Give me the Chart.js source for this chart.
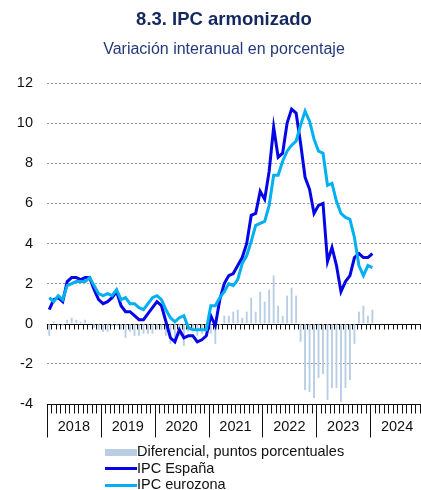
<!DOCTYPE html>
<html>
<head>
<meta charset="utf-8">
<script src="https://cdn.jsdelivr.net/npm/chart.js@4"></script>
<style>
  body { margin: 0; overflow: hidden; background: #fff; font-family: "Liberation Sans", Arial, sans-serif; }
  #wrap { position: relative; width: 448px; height: 490px; }
  #titulo { position: absolute; left: 0; top: 8px; width: 448px; text-align: center; font-size: 18.5px; line-height: 22px; font-weight: bold; color: #13285e; }
  #subtitulo { position: absolute; left: 0; top: 39px; width: 448px; text-align: center; font-size: 16px; line-height: 19px; color: #22397a; }
  #leyenda { position: absolute; left: 105px; top: 443px; font-size: 14.5px; color: #111; }
  #leyenda div { height: 16.5px; line-height: 16.5px; white-space: nowrap; }
  #leyenda span.sw { display: inline-block; width: 32px; vertical-align: middle; }
</style>
</head>
<body>
<div id="wrap">
  <canvas id="grafico"></canvas>
  <div id="titulo">8.3. IPC armonizado</div>
  <div id="subtitulo">Variación interanual en porcentaje</div>
  <div id="leyenda"></div>
</div>
<script>
// años del eje y meses (ene 2018 - dic 2024)
let anios = [2018, 2019, 2020, 2021, 2022, 2023, 2024];
let meses = [];
anios.forEach(a => { for (let m = 1; m <= 12; m++) meses.push(a + "-" + String(m).padStart(2, "0")); });

// tasas interanuales, ene 2018 - ene 2024
let ipcEspana = [
  0.7, 1.2, 1.3, 1.1, 2.1, 2.3, 2.3, 2.2, 2.3, 2.3, 1.7, 1.2,
  1.0, 1.1, 1.3, 1.6, 0.9, 0.6, 0.6, 0.4, 0.2, 0.2, 0.5, 0.8,
  1.1, 0.9, 0.1, -0.7, -0.9, -0.3, -0.7, -0.6, -0.6, -0.9, -0.8, -0.6,
  0.4, -0.1, 1.2, 2.0, 2.4, 2.5, 2.9, 3.3, 4.0, 5.4, 5.5, 6.6,
  6.2, 7.6, 9.8, 8.3, 8.5, 10.0, 10.7, 10.5, 9.0, 7.3, 6.7, 5.5,
  5.9, 6.0, 3.1, 3.8, 2.9, 1.6, 2.1, 2.4, 3.3, 3.5, 3.3, 3.3,
  3.5
];
let ipcEurozona = [
  1.3, 1.1, 1.4, 1.2, 1.9, 2.0, 2.1, 2.1, 2.1, 2.3, 1.9, 1.5,
  1.4, 1.5, 1.4, 1.7, 1.2, 1.3, 1.0, 1.0, 0.8, 0.7, 1.0, 1.3,
  1.4, 1.2, 0.7, 0.3, 0.1, 0.3, 0.4, -0.2, -0.3, -0.3, -0.3, -0.3,
  0.9, 0.9, 1.3, 1.6, 2.0, 1.9, 2.2, 3.0, 3.4, 4.1, 4.9, 5.0,
  5.1, 5.9, 7.4, 7.4, 8.1, 8.6, 8.9, 9.1, 9.9, 10.6, 10.1, 9.2,
  8.6, 8.5, 6.9, 7.0, 6.1, 5.5, 5.3, 5.2, 4.3, 2.9, 2.4, 2.9,
  2.8
];
let diferencial = [
  -0.6, 0.1, -0.1, -0.1, 0.2, 0.3, 0.2, 0.1, 0.2, 0.0, -0.2, -0.3,
  -0.4, -0.4, -0.1, -0.1, -0.3, -0.7, -0.4, -0.6, -0.6, -0.5, -0.5, -0.5,
  -0.3, -0.3, -0.6, -1.0, -1.0, -0.6, -1.1, -0.4, -0.3, -0.6, -0.5, -0.3,
  -0.5, -1.0, -0.1, 0.4, 0.4, 0.6, 0.7, 0.3, 0.6, 1.3, 0.6, 1.6,
  1.1, 1.7, 2.4, 0.9, 0.4, 1.4, 1.8, 1.4, -0.9, -3.3, -3.4, -3.7,
  -2.7, -2.5, -3.8, -3.2, -3.2, -3.9, -3.2, -2.8, -1.0, 0.6, 0.9, 0.4,
  0.7
];

const colEspana = "#0505e6";
const colEurozona = "#00b0f0";
const colDif = "#b9cde5";

// línea del cero y eje inferior con marcas mensuales y separadores de año
const ejeMensual = {
  id: "ejeMensual",
  beforeDatasetsDraw(chart) {
    const { ctx, chartArea, scales: { x, y } } = chart;
    const paso = x.getPixelForValue(1) - x.getPixelForValue(0);
    const y0 = Math.round(y.getPixelForValue(0)) + 0.5;
    const yb = Math.round(y.getPixelForValue(-4)) + 0.5;
    ctx.save();
    ctx.lineWidth = 1;
    ctx.strokeStyle = "#111";
    ctx.beginPath();
    ctx.moveTo(chartArea.left, y0); ctx.lineTo(chartArea.right, y0);
    ctx.moveTo(chartArea.left, yb); ctx.lineTo(chartArea.right, yb);
    for (let i = 0; i <= meses.length; i++) {
      const px = Math.round(x.getPixelForValue(0) + (i - 0.5) * paso) + 0.5;
      ctx.moveTo(px, y0); ctx.lineTo(px, y0 + 5);
      ctx.moveTo(px, yb); ctx.lineTo(px, yb + (i % 12 === 0 ? 33 : 9));
    }
    ctx.stroke();
    ctx.fillStyle = "#111";
    ctx.font = "14.5px 'Liberation Sans', Arial, sans-serif";
    ctx.textAlign = "center";
    ctx.textBaseline = "middle";
    anios.forEach((a, k) => {
      const cx = x.getPixelForValue(k * 12) + 5.5 * paso;
      ctx.fillText(String(a), cx, yb + 22);
    });
    ctx.restore();
  }
};

new Chart(document.getElementById("grafico").getContext("2d"), {
  type: "bar",
  data: {
    labels: meses,
    datasets: [
      {
        type: "line",
        label: "IPC eurozona",
        data: ipcEurozona,
        borderColor: colEurozona,
        backgroundColor: colEurozona,
        borderWidth: 3,
        pointRadius: 0,
        order: 0
      },
      {
        type: "line",
        label: "IPC España",
        data: ipcEspana,
        borderColor: colEspana,
        backgroundColor: colEspana,
        borderWidth: 3,
        pointRadius: 0,
        order: 1
      },
      {
        label: "Diferencial, puntos porcentuales",
        data: diferencial,
        backgroundColor: colDif,
        barPercentage: 0.42,
        categoryPercentage: 1,
        order: 2
      }
    ]
  },
  options: {
    responsive: true,
    maintainAspectRatio: false,
    animation: false,
    layout: { padding: { left: 0, right: 24, top: 83, bottom: 86 } },
    plugins: {
      legend: { display: false },
      tooltip: { enabled: false }
    },
    scales: {
      x: {
        display: false,
        offset: true
      },
      y: {
        min: -4,
        max: 12,
        afterFit(scale) { scale.width = 47; },
        ticks: {
          stepSize: 2,
          padding: 14,
          color: "#111",
          font: { family: "'Liberation Sans', Arial, sans-serif", size: 14.5 }
        },
        grid: {
          drawTicks: false,
          color: ctx => (ctx.tick && (ctx.tick.value === 0 || ctx.tick.value === -4)) ? "rgba(0,0,0,0)" : "#9a9a9a",
          borderDash: [2, 2]
        },
        border: { display: false, dash: [2, 2] }
      }
    }
  },
  plugins: [ejeMensual]
});

// leyenda en columna
const leyenda = document.getElementById("leyenda");
[
  { txt: "Diferencial, puntos porcentuales", col: colDif, alto: 7 },
  { txt: "IPC España", col: colEspana, alto: 3 },
  { txt: "IPC eurozona", col: colEurozona, alto: 3 }
].forEach(it => {
  const fila = document.createElement("div");
  const sw = document.createElement("span");
  sw.className = "sw";
  sw.style.height = it.alto + "px";
  sw.style.background = it.col;
  fila.appendChild(sw);
  fila.appendChild(document.createTextNode(it.txt));
  leyenda.appendChild(fila);
});
</script>
</body>
</html>
